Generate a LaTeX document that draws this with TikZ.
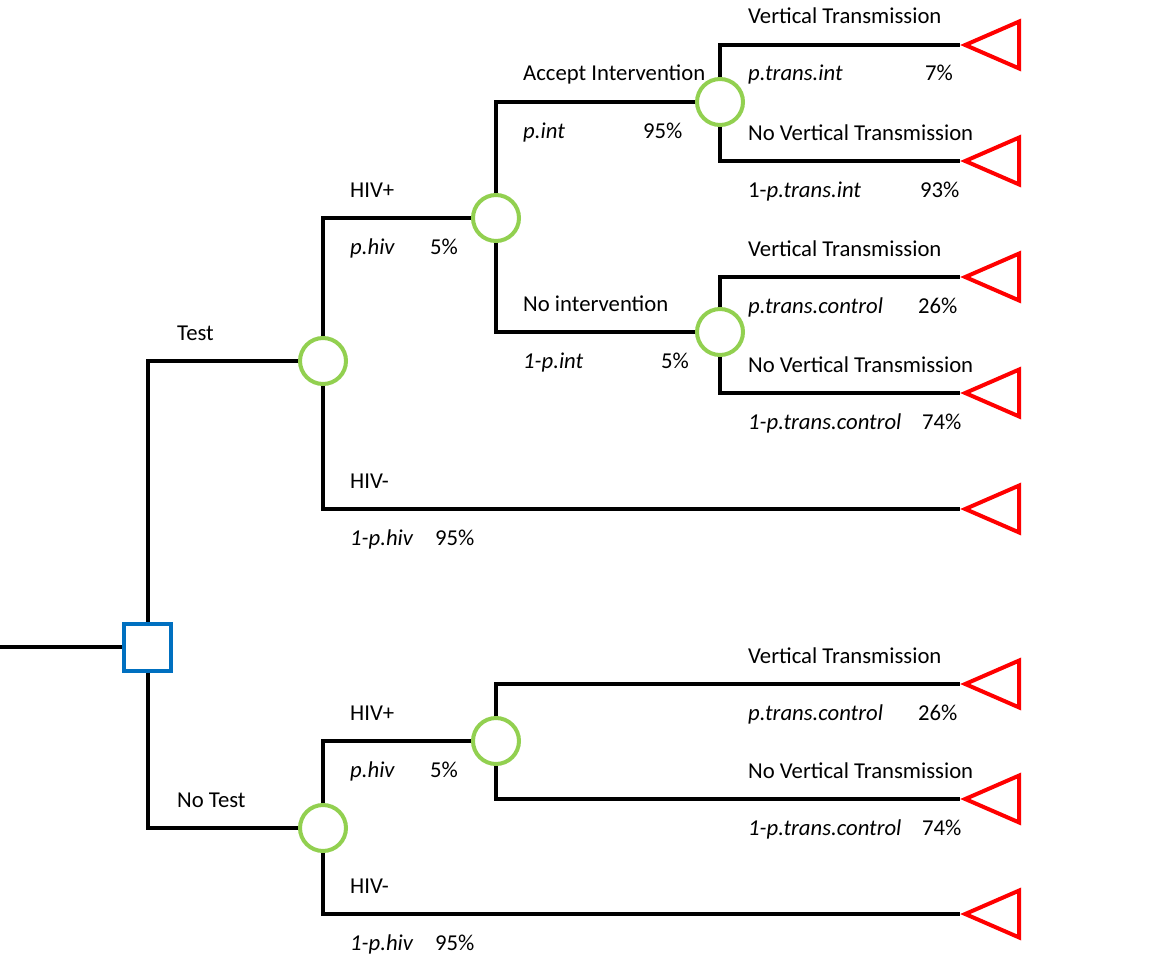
\documentclass[tikz,border=0pt]{standalone}
\usepackage{fontspec}
\setmainfont{Carlito}
\usetikzlibrary{shapes.geometric}

\definecolor{decblue}{RGB}{0,112,192}
\definecolor{chancegreen}{RGB}{146,208,80}
\definecolor{termred}{RGB}{255,0,0}

\begin{document}
\begin{tikzpicture}[x=1pt,y=-1pt]
\tikzstyle{decision} = [rectangle, draw=decblue, line width=4pt, minimum size=47pt, inner sep=0pt]
\tikzstyle{chance} = [circle, draw=chancegreen, line width=4pt, minimum size=46pt, inner sep=0pt]
\tikzstyle{terminal} = [isosceles triangle, isosceles triangle stretches, shape border rotate=180,
draw=termred, line width=4pt, minimum width=47pt, minimum height=54pt, inner sep=0pt, anchor=apex]
\tikzstyle{line} = [draw, line width=4pt]
\tikzstyle{branch} = [anchor=base west, inner sep=0pt, font=\fontsize{22.7}{26}\selectfont]
\tikzstyle{prob} = [branch, font=\fontsize{22.7}{26}\selectfont\itshape]
\useasboundingbox (0,0) rectangle (1167,958);

% nodes
\coordinate (root) at (0,647);
\node [decision] (choice) at (147.5,647) {};
\node [chance] (test) at (323,361) {};
\node [chance] (hivpos) at (496,218) {};
\node [chance] (accept) at (720,102) {};
\node [chance] (noint) at (720,332) {};
\node [chance] (notest) at (323,828) {};
\node [chance] (nthivpos) at (496,741) {};
% terminals
\node [terminal] (vtint) at (960,45) {};
\node [terminal] (nvtint) at (960,161) {};
\node [terminal] (vtctl) at (960,277) {};
\node [terminal] (nvtctl) at (960,393) {};
\node [terminal] (hivneg) at (960,509) {};
\node [terminal] (ntvt) at (960,684) {};
\node [terminal] (ntnvt) at (960,799) {};
\node [terminal] (nthivneg) at (960,914) {};

% connectors
\tikzstyle{every path}=[line]
\path (root) -- (choice.west);
\path (choice.north) |- (test.west);
\path (choice.south) |- (notest.west);
\path (test.north) |- (hivpos.west);
\path (test.south) |- (hivneg.apex);
\path (hivpos.north) |- (accept.west);
\path (hivpos.south) |- (noint.west);
\path (accept.north) |- (vtint.apex);
\path (accept.south) |- (nvtint.apex);
\path (noint.north) |- (vtctl.apex);
\path (noint.south) |- (nvtctl.apex);
\path (notest.north) |- (nthivpos.west);
\path (notest.south) |- (nthivneg.apex);
\path (nthivpos.north) |- (ntvt.apex);
\path (nthivpos.south) |- (ntnvt.apex);
\tikzstyle{every path}=[]

% branch labels
\node [branch] at (177,340) {Test};
\node [branch] at (177,807) {No Test};

\node [branch] at (350,197) {HIV+};
\node [prob] at (350,254) {p.hiv};
\node [branch] at (430,254) {5\%};
\node [branch] at (350,488) {HIV-};
\node [prob] at (350,545) {1-p.hiv};
\node [branch] at (435,545) {95\%};

\node [branch] at (523,81) {Accept Intervention};
\node [prob] at (523,138) {p.int};
\node [branch] at (643,138) {95\%};
\node [branch] at (523,311) {No intervention};
\node [prob] at (523,368) {1-p.int};
\node [branch] at (661,368) {5\%};

\node [branch] at (748,24) {Vertical Transmission};
\node [prob] at (748,81) {p.trans.int};
\node [branch] at (925,81) {7\%};
\node [branch] at (748,140) {No Vertical Transmission};
\node [branch] at (748,197) {1-\textit{p.trans.int}};
\node [branch] at (920,197) {93\%};
\node [branch] at (748,256) {Vertical Transmission};
\node [prob] at (748,313) {p.trans.control};
\node [branch] at (918,313) {26\%};
\node [branch] at (748,372) {No Vertical Transmission};
\node [prob] at (748,429) {1-p.trans.control};
\node [branch] at (922,429) {74\%};

\node [branch] at (350,720) {HIV+};
\node [prob] at (350,777) {p.hiv};
\node [branch] at (430,777) {5\%};
\node [branch] at (350,893) {HIV-};
\node [prob] at (350,950) {1-p.hiv};
\node [branch] at (435,950) {95\%};

\node [branch] at (748,663) {Vertical Transmission};
\node [prob] at (748,720) {p.trans.control};
\node [branch] at (918,720) {26\%};
\node [branch] at (748,778) {No Vertical Transmission};
\node [prob] at (748,835) {1-p.trans.control};
\node [branch] at (922,835) {74\%};
\end{tikzpicture}
\end{document}
